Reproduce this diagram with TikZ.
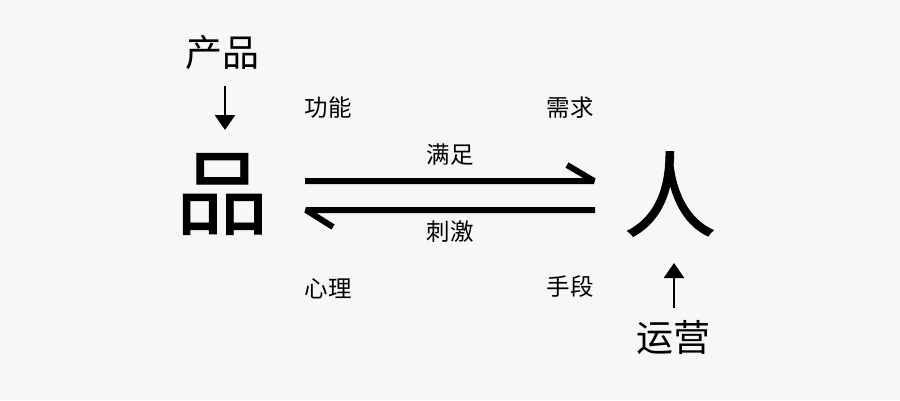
\documentclass[tikz,border=0pt]{standalone}
\usepackage{fontspec}
\setmainfont{Noto Sans CJK SC}
\newfontfamily\cjk{Noto Sans CJK SC}
\newfontfamily\cjkmed[FakeBold=0.9]{Noto Sans CJK SC}
\usetikzlibrary{arrows.meta}
\definecolor{bg}{HTML}{F7F7F7}
\begin{document}
\begin{tikzpicture}[x=1pt,y=-1pt,
  lbl/.style={inner sep=0pt,font=\cjk\fontsize{23.5}{23.5}\selectfont},
  mid/.style={inner sep=0pt,font=\cjk\fontsize{37}{37}\selectfont},
  big/.style={inner sep=0pt,font=\cjkmed\fontsize{93}{93}\selectfont},
  harp/.style={line width=6pt,line join=bevel},
  thinarrow/.style={line width=2.6pt,-{Triangle[width=20pt,length=15pt]}}]
\fill[bg] (0,0) rectangle (900,400);
\useasboundingbox (0,0) rectangle (900,400);
\node[mid] (chanpin) at (222,53) {产品};
\node[big] (pin) at (222,194) {品};
\node[big] (ren) at (670,194) {人};
\node[mid] (yunying) at (673,338) {运营};
\node[lbl] (gongneng) at (328,108) {功能};
\node[lbl] (xuqiu) at (570,108) {需求};
\node[lbl] (xinli) at (328,289) {心理};
\node[lbl] (shouduan) at (570,287) {手段};
\node[lbl] (manzu) at (450,155) {满足};
\node[lbl] (ciji) at (450,232) {刺激};
\coordinate (a1) at (225,86);
\coordinate (a2) at (225,130);
\draw[thinarrow] (a1) -- (a2);
\coordinate (b1) at (674,308);
\coordinate (b2) at (674,263);
\draw[thinarrow] (b1) -- (b2);
\coordinate (t1) at (305,181);
\coordinate (t2) at (594,181);
\coordinate (tb) at (567,165);
\draw[harp] (t1) -- (t2) -- (tb);
\coordinate (u1) at (595,210);
\coordinate (u2) at (306,210);
\coordinate (ub) at (333,227);
\draw[harp] (u1) -- (u2) -- (ub);
\end{tikzpicture}
\end{document}
